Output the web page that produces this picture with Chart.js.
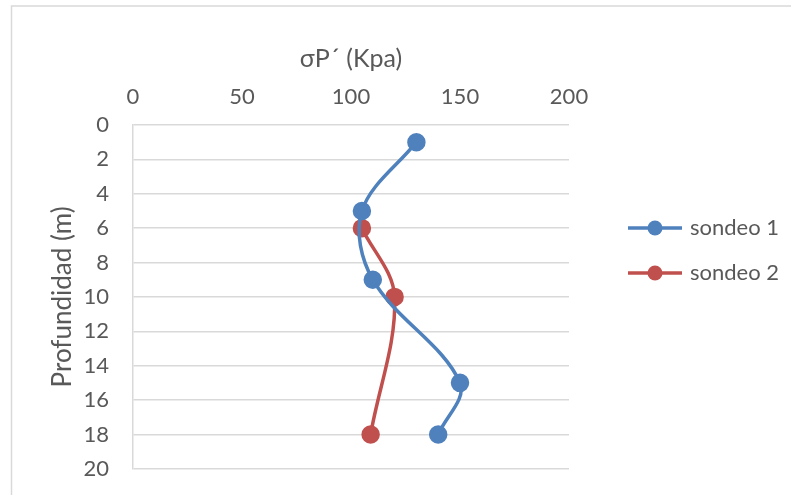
<!DOCTYPE html>
<html>
<head>
<meta charset="utf-8">
<script src="https://cdn.jsdelivr.net/npm/chart.js@4"></script>
<style>
  html, body { margin: 0; padding: 0; background: #fff; }
</style>
</head>
<body>
<canvas id="grafico" width="791" height="495"></canvas>
<script>
// valores
const sondeo1Presion = [130, 105, 110, 150, 140];
const sondeo1Prof = [1, 5, 9, 15, 18];
const sondeo2Presion = [105, 120, 109];
const sondeo2Prof = [6, 10, 18];
const xTicks = [0, 50, 100, 150, 200];
const yTicks = [0, 2, 4, 6, 8, 10, 12, 14, 16, 18, 20];

const azul = '#4F81BD';
const rojo = '#C0504D';
const gris = '#595959';
const fuente = 'Lato, "Open Sans", sans-serif';

// marcador de leyenda: linea con circulo
function marcador(color) {
  const c = document.createElement('canvas');
  c.width = 54; c.height = 16;
  const g = c.getContext('2d');
  g.strokeStyle = color; g.lineWidth = 3.5;
  g.beginPath(); g.moveTo(0, 8); g.lineTo(54, 8); g.stroke();
  g.fillStyle = color;
  g.beginPath(); g.arc(27, 8, 7.5, 0, Math.PI * 2); g.fill();
  return c;
}

const puntos = (xs, ys) => xs.map((x, i) => ({ x: x, y: ys[i] }));

const borde = {
  id: 'borde',
  beforeDraw(chart) {
    const ctx = chart.ctx;
    ctx.save();
    ctx.strokeStyle = '#d9d9d9';
    ctx.lineWidth = 1.5;
    ctx.strokeRect(11.5, 6, 790, 500);
    ctx.restore();
  }
};

// ancho fijo para la leyenda
const anchoLeyenda = {
  id: 'anchoLeyenda',
  beforeLayout(chart) {
    const lg = chart.legend;
    if (lg && !lg._ajustado) {
      const fitOrig = lg.fit;
      lg.fit = function () {
        fitOrig.call(this);
        this.width = 183;
      };
      lg._ajustado = true;
    }
  }
};

new Chart(document.getElementById('grafico').getContext('2d'), {
  type: 'scatter',
  data: {
    datasets: [
      {
        label: 'sondeo 1',
        data: puntos(sondeo1Presion, sondeo1Prof),
        borderColor: azul,
        backgroundColor: azul,
        showLine: true,
        tension: 0.35,
        borderWidth: 3.5,
        pointRadius: 7.5,
        pointHoverRadius: 7.5
      },
      {
        label: 'sondeo 2',
        data: puntos(sondeo2Presion, sondeo2Prof),
        borderColor: rojo,
        backgroundColor: rojo,
        showLine: true,
        tension: 0.35,
        borderWidth: 3.5,
        pointRadius: 7.5,
        pointHoverRadius: 7.5
      }
    ]
  },
  options: {
    responsive: false,
    animation: false,
    layout: { padding: { left: 12, top: 20, right: 0, bottom: 14 } },
    scales: {
      x: {
        position: 'top',
        min: 0,
        max: 200,
        afterBuildTicks: axis => { axis.ticks = xTicks.map(v => ({ value: v })); },
        afterFit: axis => { axis.height = 105; },
        grid: { display: false, drawTicks: false },
        border: { display: false },
        ticks: { color: gris, font: { family: fuente, size: 22 }, padding: 15 },
        title: { display: true, text: 'σP´ (Kpa)', color: gris, font: { family: fuente, size: 25 }, padding: { top: 24, bottom: 0 } }
      },
      y: {
        reverse: true,
        min: 0,
        max: 20,
        afterBuildTicks: axis => { axis.ticks = yTicks.map(v => ({ value: v })); },
        afterFit: axis => { axis.width = 121; },
        grid: { color: '#d9d9d9', lineWidth: 1.5, drawTicks: true, tickLength: 11, tickColor: 'transparent' },
        border: { display: true, color: '#d9d9d9', width: 1.5 },
        ticks: { color: gris, font: { family: fuente, size: 22 }, padding: 13 },
        title: { display: true, text: 'Profundidad (m)', color: gris, font: { family: fuente, size: 26 }, padding: { top: 35, bottom: 0 } }
      },
      // hueco entre el area del grafico y la leyenda
      hueco: {
        type: 'linear',
        position: 'right',
        display: true,
        afterFit: axis => { axis.width = 39; },
        grid: { display: false },
        border: { display: false },
        ticks: { display: false }
      }
    },
    plugins: {
      legend: {
        display: true,
        position: 'right',
        labels: {
          color: gris,
          font: { family: fuente, size: 22 },
          usePointStyle: true,
          pointStyleWidth: 48,
          padding: 23,
          generateLabels: chart => chart.data.datasets.map((ds, i) => ({
            text: ds.label,
            fontColor: gris,
            pointStyle: marcador(ds.borderColor),
            datasetIndex: i,
            hidden: false,
            lineWidth: 0,
            strokeStyle: 'transparent',
            fillStyle: 'transparent'
          }))
        }
      },
      tooltip: { enabled: false }
    }
  },
  plugins: [borde, anchoLeyenda]
});
</script>
</body>
</html>
